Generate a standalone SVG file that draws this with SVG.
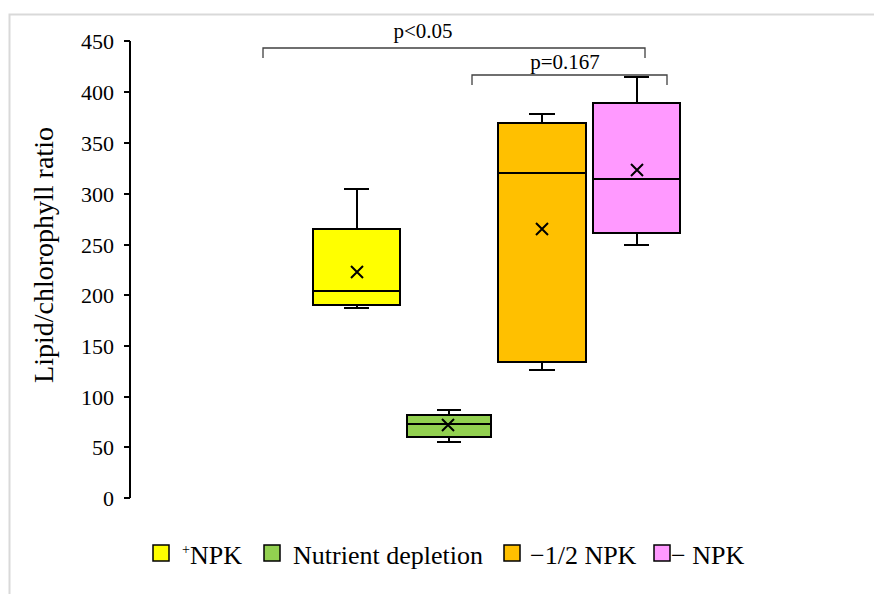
<svg xmlns="http://www.w3.org/2000/svg" width="874" height="594" viewBox="0 0 874 594">
<style>
text{font-family:"Liberation Serif","Times New Roman",serif;fill:#000}
.tick{font-size:22px;text-anchor:end}
.box{stroke:#000;stroke-width:2}
.ln{stroke:#000;stroke-width:2;fill:none}
.br{stroke:#404040;stroke-width:1.3;fill:none}
.leg{font-size:26px}
.sw{stroke:#000;stroke-width:1.5}
</style>
<rect width="874" height="594" fill="#fff"/>
<path d="M9.5 594V14.5H874" fill="none" stroke="#d9d9d9" stroke-width="2"/>
<g id="axis">
<path class="ln" d="M130 41V498M124 41H130M124 92H130M124 143H130M124 194H130M124 245H130M124 295H130M124 346H130M124 397H130M124 447H130M124 498H130"/>
<text class="tick" x="114" y="49">450</text>
<text class="tick" x="114" y="100">400</text>
<text class="tick" x="114" y="151">350</text>
<text class="tick" x="114" y="202">300</text>
<text class="tick" x="114" y="253">250</text>
<text class="tick" x="114" y="303">200</text>
<text class="tick" x="114" y="354">150</text>
<text class="tick" x="114" y="405">100</text>
<text class="tick" x="114" y="455">50</text>
<text class="tick" x="114" y="506">0</text>
<text x="0" y="0" font-size="28" text-anchor="middle" transform="translate(53 255) rotate(-90)">Lipid/chlorophyll ratio</text>
</g>
<g id="npk">
<path class="ln" d="M357 229V189M344 189H369M357 305V308M344 308H369"/>
<rect class="box" x="313" y="229" width="87" height="76" fill="#FFFF00"/>
<path class="ln" d="M313 291H400M351 266L363 278M363 266L351 278"/>
</g>
<g id="depletion">
<path class="ln" d="M449 415V410M437 410H461M449 437V442M437 442H461"/>
<rect class="box" x="407" y="415" width="84" height="22" fill="#92D050"/>
<path class="ln" d="M407 424H491M442 419L454 431M454 419L442 431"/>
</g>
<g id="half">
<path class="ln" d="M542 123V114M529 114H555M542 362V370M529 370H555"/>
<rect class="box" x="498" y="123" width="88" height="239" fill="#FFC000"/>
<path class="ln" d="M498 173H586M536 223L548 235M548 223L536 235"/>
</g>
<g id="minus">
<path class="ln" d="M637 103V77M624 77H649M637 233V245M624 245H649"/>
<rect class="box" x="593" y="103" width="87" height="130" fill="#FF99FF"/>
<path class="ln" d="M593 179H680M631 164L643 176M643 164L631 176"/>
</g>
<g id="connectors">
<path class="br" d="M263 58V48H645V58"/>
<path class="br" d="M472 85V75H667V85"/>
<text x="423" y="38" font-size="21" text-anchor="middle">p&lt;0.05</text>
<text x="565" y="69" font-size="21" text-anchor="middle">p=0.167</text>
</g>
<g id="legend">
<rect class="sw" x="153" y="545" width="16" height="16" fill="#FFFF00"/>
<text class="leg" x="182" y="564"><tspan font-size="14" dy="-10">+</tspan><tspan dy="10">NPK</tspan></text>
<rect class="sw" x="264" y="545" width="16" height="16" fill="#92D050"/>
<text class="leg" x="293" y="564">Nutrient depletion</text>
<rect class="sw" x="504" y="545" width="16" height="16" fill="#FFC000"/>
<text class="leg" x="530" y="564">−1/2 NPK</text>
<rect class="sw" x="654" y="545" width="16" height="16" fill="#FF99FF"/>
<text class="leg" x="671" y="564">− NPK</text>
</g>
</svg>
